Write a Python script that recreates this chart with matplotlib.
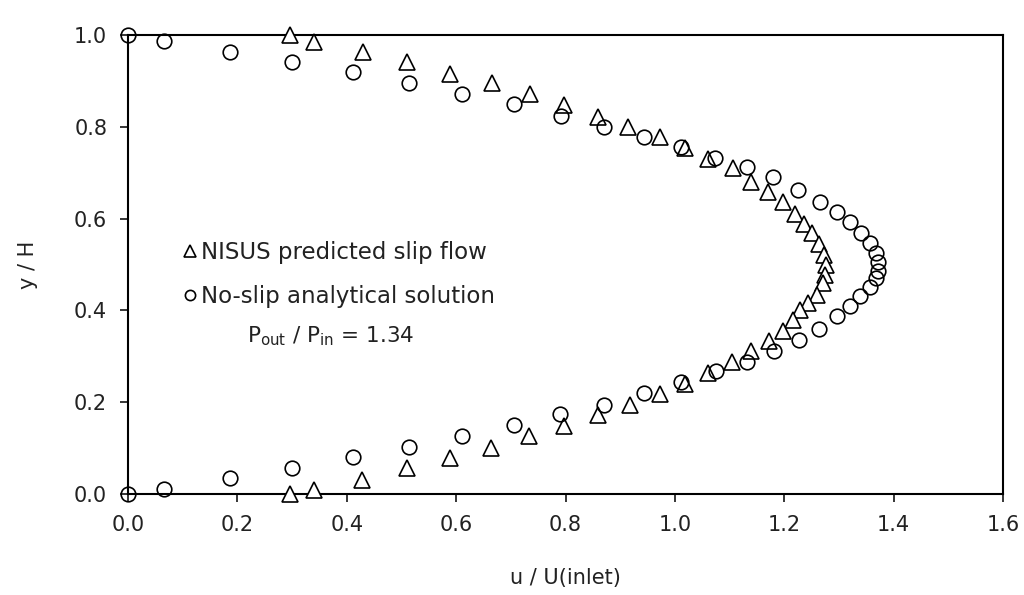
import matplotlib
matplotlib.use("Agg")
import matplotlib.pyplot as plt
import numpy as np

# NISUS predicted slip flow (triangles)
slip_u = [0.296, 0.341, 0.429, 0.511, 0.589, 0.665, 0.735, 0.798, 0.859, 0.915,
          0.972, 1.018, 1.061, 1.107, 1.140, 1.171, 1.197, 1.220, 1.236, 1.250,
          1.264, 1.272, 1.277, 1.275, 1.270, 1.259, 1.244, 1.228, 1.216, 1.198,
          1.173, 1.140, 1.104, 1.061, 1.018, 0.972, 0.918, 0.860, 0.798, 0.734,
          0.664, 0.588, 0.511, 0.427, 0.341, 0.296]
slip_y = [1.000, 0.985, 0.964, 0.942, 0.915, 0.895, 0.872, 0.848, 0.822, 0.800,
          0.778, 0.753, 0.731, 0.710, 0.680, 0.659, 0.637, 0.610, 0.588, 0.568,
          0.545, 0.521, 0.499, 0.477, 0.459, 0.434, 0.416, 0.400, 0.380, 0.356,
          0.334, 0.312, 0.288, 0.263, 0.240, 0.218, 0.194, 0.172, 0.148, 0.126,
          0.101, 0.078, 0.056, 0.031, 0.009, 0.000]

# No-slip analytical solution (circles)
noslip_u = [0.000, 0.065, 0.186, 0.300, 0.411, 0.514, 0.611, 0.705, 0.791, 0.871,
            0.944, 1.012, 1.073, 1.131, 1.180, 1.226, 1.265, 1.296, 1.320, 1.340,
            1.357, 1.367, 1.371, 1.371, 1.367, 1.357, 1.338, 1.321, 1.296, 1.264,
            1.227, 1.181, 1.131, 1.075, 1.012, 0.944, 0.871, 0.790, 0.705, 0.611,
            0.514, 0.411, 0.300, 0.186, 0.065, 0.000]
noslip_y = [1.000, 0.988, 0.964, 0.942, 0.919, 0.896, 0.872, 0.849, 0.824, 0.800,
            0.778, 0.757, 0.733, 0.713, 0.690, 0.662, 0.637, 0.614, 0.592, 0.569,
            0.548, 0.526, 0.505, 0.487, 0.470, 0.452, 0.431, 0.409, 0.387, 0.360,
            0.336, 0.312, 0.288, 0.267, 0.243, 0.221, 0.195, 0.174, 0.150, 0.126,
            0.103, 0.080, 0.056, 0.034, 0.010, 0.000]

xticks = np.arange(0, 1.61, 0.2)
yticks = np.arange(0, 1.01, 0.2)

plt.rcParams['font.family'] = ['DejaVu Sans']
txt = '#222222'

fig = plt.figure(figsize=(10.24, 5.95), dpi=100)
ax = fig.add_axes([0.125, 0.1697, 0.8545, 0.7714])

ax.plot(slip_u, slip_y, '^', ms=11.5, mfc='white', mec='black', mew=1.2,
        clip_on=False, zorder=3, label='NISUS predicted slip flow')
ax.plot(noslip_u, noslip_y, 'o', ms=10.5, mfc='none', mec='black', mew=1.2,
        clip_on=False, zorder=3, label='No-slip analytical solution')

ax.set_xlim(0, 1.6)
ax.set_ylim(0, 1.0)
ax.set_xticks(xticks)
ax.set_yticks(yticks)
ax.set_xticklabels([f'{v:.1f}' for v in xticks])
ax.set_yticklabels([f'{v:.1f}' for v in yticks])
ax.tick_params(direction='out', length=6, width=1.1, labelsize=15,
               labelcolor=txt, pad=9)
for s in ax.spines.values():
    s.set_linewidth(1.5)

ax.set_xlabel('u / U(inlet)', fontsize=15, color=txt, labelpad=24)
ax.set_ylabel('y / H', fontsize=15, color=txt, labelpad=26)

leg = ax.legend(loc='upper left', bbox_to_anchor=(0.051, 0.577), frameon=False,
                fontsize=16.5, handlelength=0.55, handletextpad=0.2,
                labelspacing=0.95, borderpad=0, markerscale=0.7)
for t in leg.get_texts():
    t.set_color(txt)

ax.text(0.136, 0.343, r'P$_{\rm out}$ / P$_{\rm in}$ = 1.34', transform=ax.transAxes,
        fontsize=15.5, color=txt, va='center', ha='left')

fig.savefig('out.png', dpi=100)
